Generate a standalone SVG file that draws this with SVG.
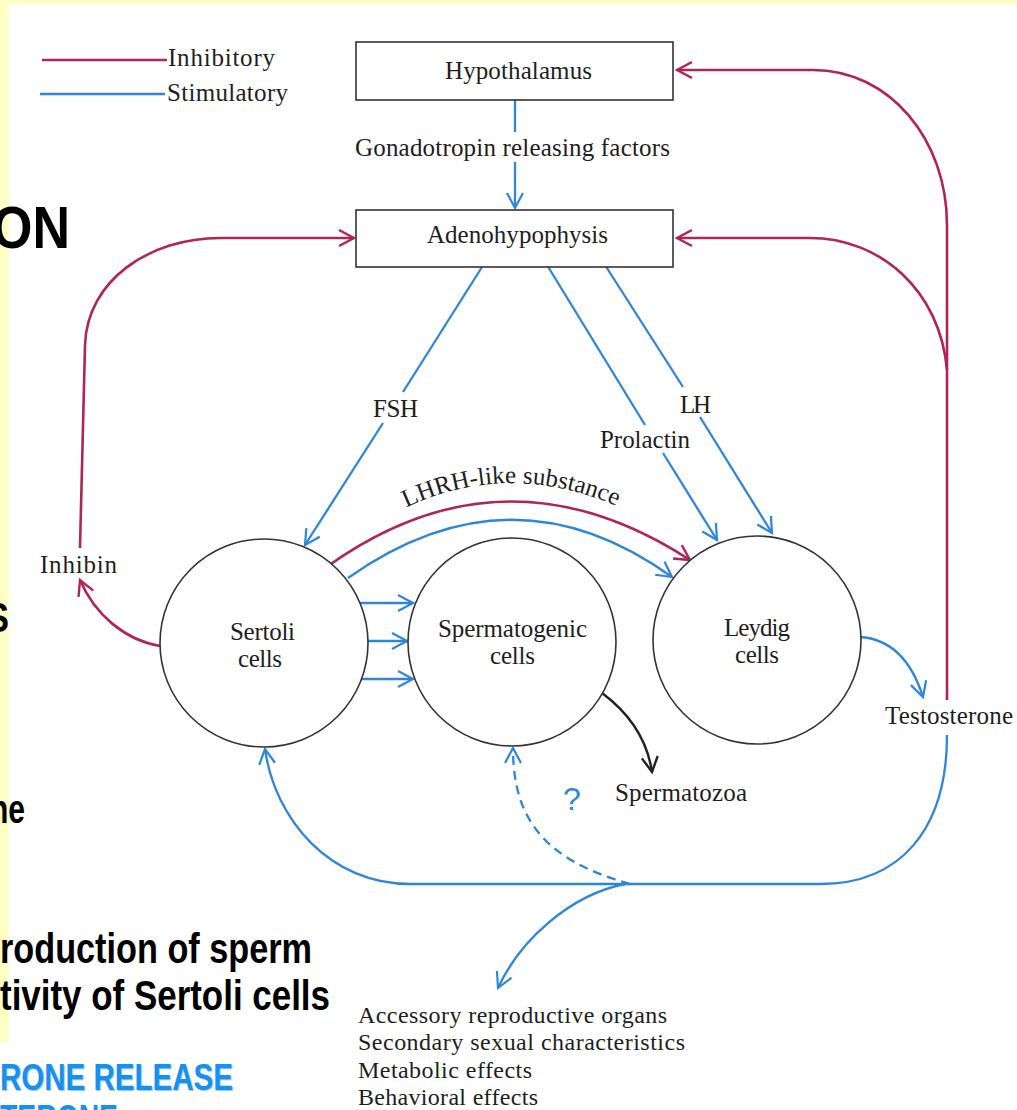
<svg xmlns="http://www.w3.org/2000/svg" width="1017" height="1110" viewBox="0 0 1017 1110">
  <style>
    .lbl { font-family: "Liberation Serif", "DejaVu Serif", serif; font-size: 25px; fill: #1e1e1e; }
    .sm { font-size: 24px; }
    .slide { font-family: "Liberation Sans", Arial, sans-serif; font-weight: bold; fill: #000; }
    .slideblue { font-family: "Liberation Sans", Arial, sans-serif; font-weight: bold; fill: #1890F0; }
    .box { fill: #fff; stroke: #333; stroke-width: 1.6; }
    .cell { fill: #fff; stroke: #333; stroke-width: 1.6; }
    .red { fill: none; stroke: #B02458; stroke-width: 2.6; }
    .blue { fill: none; stroke: #2F86D8; stroke-width: 2.3; }
    .black { fill: none; stroke: #222; stroke-width: 2.4; }
    .dash { stroke-dasharray: 9 6; }
  </style>
  <defs>
    <marker id="mb" viewBox="-18 -10 20 20" refX="0" refY="0" markerWidth="20" markerHeight="20" orient="auto" markerUnits="userSpaceOnUse" overflow="visible">
      <path d="M-15,-8 L0,0 L-15,8" fill="none" stroke="#2F86D8" stroke-width="2.2"/>
    </marker>
    <marker id="mr" viewBox="-18 -10 20 20" refX="0" refY="0" markerWidth="20" markerHeight="20" orient="auto" markerUnits="userSpaceOnUse" overflow="visible">
      <path d="M-15,-8 L0,0 L-15,8" fill="none" stroke="#B02458" stroke-width="2.4"/>
    </marker>
    <marker id="mk" viewBox="-18 -10 20 20" refX="0" refY="0" markerWidth="20" markerHeight="20" orient="auto" markerUnits="userSpaceOnUse" overflow="visible">
      <path d="M-15,-8 L0,0 L-15,8" fill="none" stroke="#222" stroke-width="2.4"/>
    </marker>
    <path id="lhrhPath" d="M405 508 Q515 456 632 513"/>
  </defs>

  <!-- background -->
  <rect x="0" y="0" width="1017" height="1110" fill="#fff"/>
  <rect x="0" y="0" width="1017" height="4" fill="#FFFFC4"/>
  <rect x="0" y="0" width="9" height="1043" fill="#FFFFC4"/>

  <!-- slide text fragments (cut off at the edge as in the reference) -->
  <g id="slide-text">
    <text class="slide" x="-8" y="248" font-size="60" textLength="78" lengthAdjust="spacingAndGlyphs">ON</text>
    <text class="slide" x="-14" y="632" font-size="42" textLength="23" lengthAdjust="spacingAndGlyphs">S</text>
    <text class="slide" x="-10" y="823" font-size="40" textLength="35" lengthAdjust="spacingAndGlyphs">ne</text>
    <text class="slide" x="0" y="963" font-size="42" textLength="312" lengthAdjust="spacingAndGlyphs">roduction of sperm</text>
    <text class="slide" x="0" y="1010" font-size="42" textLength="330" lengthAdjust="spacingAndGlyphs">tivity of Sertoli cells</text>
    <text class="slideblue" x="1" y="1091" font-size="37" textLength="233" lengthAdjust="spacingAndGlyphs" fill="#0b3d6e" opacity="0.45">RONE RELEASE</text>
    <text class="slideblue" x="0" y="1090" font-size="37" textLength="233" lengthAdjust="spacingAndGlyphs">RONE RELEASE</text>
    <text class="slideblue" x="0" y="1131" font-size="37" textLength="118" lengthAdjust="spacingAndGlyphs">TERONE</text>
  </g>

  <!-- legend -->
  <g id="legend">
    <line x1="42" y1="60" x2="167" y2="60" class="red"/>
    <line x1="40" y1="94" x2="165" y2="94" class="blue"/>
    <text class="lbl" x="168" y="66" textLength="107">Inhibitory</text>
    <text class="lbl" x="167" y="101" textLength="121">Stimulatory</text>
  </g>

  <!-- connectors -->
  <g id="connectors">
    <path class="blue" d="M515 100 L515 132"/>
    <path class="blue" d="M515 162 L515 208" marker-end="url(#mb)"/>
    <path class="blue" d="M482 267 L403 392"/>
    <path class="blue" d="M383 423 L305 545" marker-end="url(#mb)"/>
    <path class="blue" d="M547 265 L645 425"/>
    <path class="blue" d="M663 453 L717 540" marker-end="url(#mb)"/>
    <path class="blue" d="M605 265 L683 387"/>
    <path class="blue" d="M700 417 L772 533" marker-end="url(#mb)"/>
    <path class="red" d="M328 566 Q505 440 690 560" marker-end="url(#mr)"/>
    <path class="blue" d="M348 578 Q512 462 672 577" marker-end="url(#mb)"/>
    <path class="blue" d="M360 603 L413 603" marker-end="url(#mb)"/>
    <path class="blue" d="M366 641 L407 641" marker-end="url(#mb)"/>
    <path class="blue" d="M360 679 L413 679" marker-end="url(#mb)"/>
    <path class="red" d="M160 646 C125 640 95 615 80 580" marker-end="url(#mr)"/>
    <path class="red" d="M80 548 L85 345 C87 280 150 238 220 238 L354 238" marker-end="url(#mr)"/>
    <path class="blue" d="M860 637 Q905 640 923 697" marker-end="url(#mb)"/>
    <path class="red" d="M947 700 L947 225 C947 140 890 70 813 70 L677 70" marker-end="url(#mr)"/>
    <path class="red" d="M947 370 C940 290 880 238 810 238 L677 238" marker-end="url(#mr)"/>
    <path class="blue" d="M947 735 C947 830 900 884 820 884 L410 884 C330 884 275 820 265 749" marker-end="url(#mb)"/>
    <path class="blue dash" d="M630 884 C545 860 513 820 513 748" marker-end="url(#mb)"/>
    <path class="blue" d="M625 884 C570 895 520 940 498 988" marker-end="url(#mb)"/>
    <path class="black" d="M602 693 Q645 725 652 772" marker-end="url(#mk)"/>
  </g>

  <!-- nodes -->
  <g id="hypothalamus">
    <rect class="box" x="356" y="42" width="317" height="58"/>
    <text class="lbl" x="445" y="79" textLength="147">Hypothalamus</text>
  </g>
  <g id="adenohypophysis">
    <rect class="box" x="356" y="210" width="317" height="57"/>
    <text class="lbl" x="427" y="243" textLength="181">Adenohypophysis</text>
  </g>
  <g id="sertoli">
    <circle class="cell" cx="264" cy="643" r="104"/>
    <text class="lbl" x="230" y="640" textLength="65">Sertoli</text>
    <text class="lbl" x="238" y="667" textLength="44">cells</text>
  </g>
  <g id="spermatogenic">
    <circle class="cell" cx="512" cy="642" r="104"/>
    <text class="lbl" x="438" y="637" textLength="149">Spermatogenic</text>
    <text class="lbl" x="490" y="664" textLength="45">cells</text>
  </g>
  <g id="leydig">
    <circle class="cell" cx="757" cy="640" r="104"/>
    <text class="lbl" x="724" y="636" textLength="66">Leydig</text>
    <text class="lbl" x="735" y="663" textLength="44">cells</text>
  </g>

  <!-- labels -->
  <g id="labels">
    <text class="lbl" x="355" y="156" textLength="315">Gonadotropin releasing factors</text>
    <text class="lbl" x="373" y="417" textLength="45">FSH</text>
    <text class="lbl" x="680" y="413" textLength="31">LH</text>
    <text class="lbl" x="600" y="448" textLength="90">Prolactin</text>
    <text class="lbl"><textPath href="#lhrhPath" startOffset="1">LHRH-like substance</textPath></text>
    <text class="lbl" x="40" y="573" textLength="77">Inhibin</text>
    <text class="lbl" x="885" y="724" textLength="128">Testosterone</text>
    <text class="lbl" x="615" y="801" textLength="132">Spermatozoa</text>
    <text x="572" y="810" text-anchor="middle" font-family="Liberation Sans, Arial, sans-serif" font-size="32" fill="#2F86D8">?</text>
    <text class="lbl sm" x="358" y="1023" textLength="309">Accessory reproductive organs</text>
    <text class="lbl sm" x="358" y="1050" textLength="327">Secondary sexual characteristics</text>
    <text class="lbl sm" x="358" y="1078" textLength="174">Metabolic effects</text>
    <text class="lbl sm" x="358" y="1105" textLength="180">Behavioral effects</text>
  </g>
</svg>
